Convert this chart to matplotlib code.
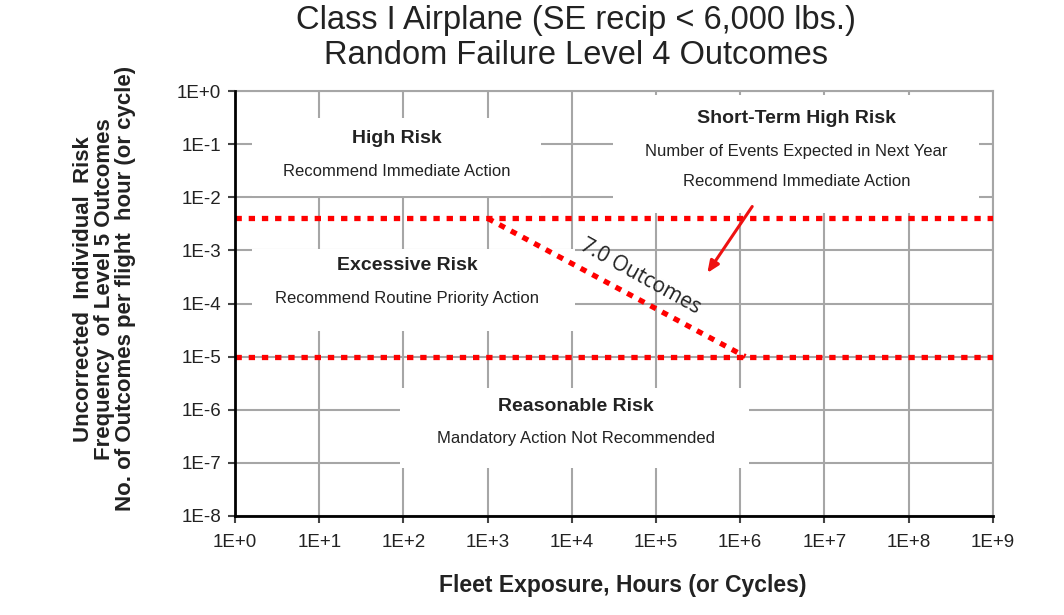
import numpy as np
import matplotlib.pyplot as plt
from matplotlib.patches import Rectangle

# axis decades and tick labels
x_exp = list(range(0, 10))
y_exp = list(range(0, -9, -1))
x_labels = ["1E+%d" % e for e in x_exp]
y_labels = ["1E+0"] + ["1E%d" % e for e in y_exp[1:]]

# risk boundary lines
x_span = [1e0, 1e9]
upper_risk = [4e-3, 4e-3]
lower_risk = [1e-5, 1e-5]
diag_x = [1e3, 1.15e6]
diag_y = [4e-3, 1e-5]

arial = ["Liberation Sans", "DejaVu Sans"]
txt = "#222222"

fig = plt.figure(figsize=(10.64, 6.15), dpi=100)
ax = fig.add_axes([0.221, 0.161, 0.712, 0.691])
ax.set_xscale("log")
ax.set_yscale("log")
ax.set_xlim(1e0, 1e9)
ax.set_ylim(1e-8, 1e0)

ax.set_xticks([10.0 ** e for e in x_exp])
ax.set_xticklabels(x_labels, family=arial, fontsize=13.5, color=txt)
ax.set_yticks([10.0 ** e for e in y_exp])
ax.set_yticklabels(y_labels, family=arial, fontsize=13.5, color=txt)
ax.minorticks_off()
ax.tick_params(direction="out", length=5, width=1.5, color="#444444")
ax.tick_params(axis="x", pad=8)
ax.tick_params(axis="y", pad=5)

ax.grid(True, color="#a6a6a6", linewidth=1.5)
ax.set_axisbelow(True)
for s in ["top", "right"]:
    ax.spines[s].set_color("#a6a6a6")
    ax.spines[s].set_linewidth(1.5)
for s in ["left", "bottom"]:
    ax.spines[s].set_color("black")
    ax.spines[s].set_linewidth(2)
    ax.spines[s].set_zorder(5)


def white_box(x0, x1, y0, y1):
    # white text box (in decades) that hides the grid behind a label
    ax.add_patch(Rectangle((10 ** x0, 10 ** y0), 10 ** x1 - 10 ** x0,
                           10 ** y1 - 10 ** y0, facecolor="white",
                           edgecolor="none", zorder=1))


white_box(0.2, 3.63, -1.98, -0.51)
white_box(0.2, 4.04, -4.51, -2.98)
white_box(4.49, 8.84, -2.3, -0.075)
white_box(1.96, 6.1, -7.09, -5.6)

# region labels
ax.text(84, 10 ** -0.89, "High Risk", ha="center", va="center", fontsize=14,
        fontweight="bold", family=arial, color=txt, zorder=5)
ax.text(84, 10 ** -1.52, "Recommend Immediate Action", ha="center", va="center",
        fontsize=12, family=arial, color=txt, zorder=5)

ax.text(110, 10 ** -3.28, "Excessive Risk", ha="center", va="center", fontsize=14,
        fontweight="bold", family=arial, color=txt, zorder=5)
ax.text(110, 10 ** -3.9, "Recommend Routine Priority Action", ha="center", va="center",
        fontsize=12, family=arial, color=txt, zorder=5)

ax.text(10 ** 6.67, 10 ** -0.51, "Short-Term High Risk", ha="center", va="center",
        fontsize=14, fontweight="bold", family=arial, color=txt, zorder=5)
ax.text(10 ** 6.67, 10 ** -1.13, "Number of Events Expected in Next Year", ha="center",
        va="center", fontsize=12, family=arial, color=txt, zorder=5)
ax.text(10 ** 6.67, 10 ** -1.70, "Recommend Immediate Action", ha="center",
        va="center", fontsize=12, family=arial, color=txt, zorder=5)

ax.text(10 ** 4.05, 10 ** -5.94, "Reasonable Risk", ha="center", va="center",
        fontsize=14, fontweight="bold", family=arial, color=txt, zorder=5)
ax.text(10 ** 4.05, 10 ** -6.55, "Mandatory Action Not Recommended", ha="center",
        va="center", fontsize=12, family=arial, color=txt, zorder=5)

# boundary lines
dot = dict(color="#ff0000", linewidth=3.8, linestyle=(0, (1.2, 1.3)),
           dash_capstyle="butt", zorder=4)
ax.plot(x_span, upper_risk, **dot)
ax.plot(x_span, lower_risk, **dot)
ax.plot(diag_x, diag_y, **dot)

ax.text(10 ** 4.82, 10 ** -3.5, "7.0 Outcomes", ha="center", va="center",
        rotation=-29, fontsize=15, family=["Open Sans", "DejaVu Sans"],
        color=txt, zorder=6)

ax.annotate("", xy=(3.9e5, 3.4e-4), xytext=(1.45e6, 7.4e-3),
            arrowprops=dict(arrowstyle="-|>,head_length=0.7,head_width=0.3",
                            color="#ee1111", lw=2.2), zorder=6)

ax.set_xlabel("Fleet Exposure, Hours (or Cycles)", fontsize=16.5, fontweight="bold",
              family=arial, color=txt)
ax.xaxis.set_label_coords(0.512, -0.137)
ax.set_ylabel("Uncorrected  Individual  Risk\nFrequency  of Level 5 Outcomes\n"
              "No. of Outcomes per flight  hour (or cycle)", fontsize=16,
              fontweight="bold", family=arial, linespacing=1.0, color=txt)
ax.yaxis.set_label_coords(-0.131, 0.535)

fig.text(0.541, 0.966, "Class I Airplane (SE recip < 6,000 lbs.)", ha="center",
         va="center", fontsize=23.5, family=arial, color=txt)
fig.text(0.541, 0.909, "Random Failure Level 4 Outcomes", ha="center",
         va="center", fontsize=23.5, family=arial, color=txt)

fig.savefig("out.png", dpi=100)
